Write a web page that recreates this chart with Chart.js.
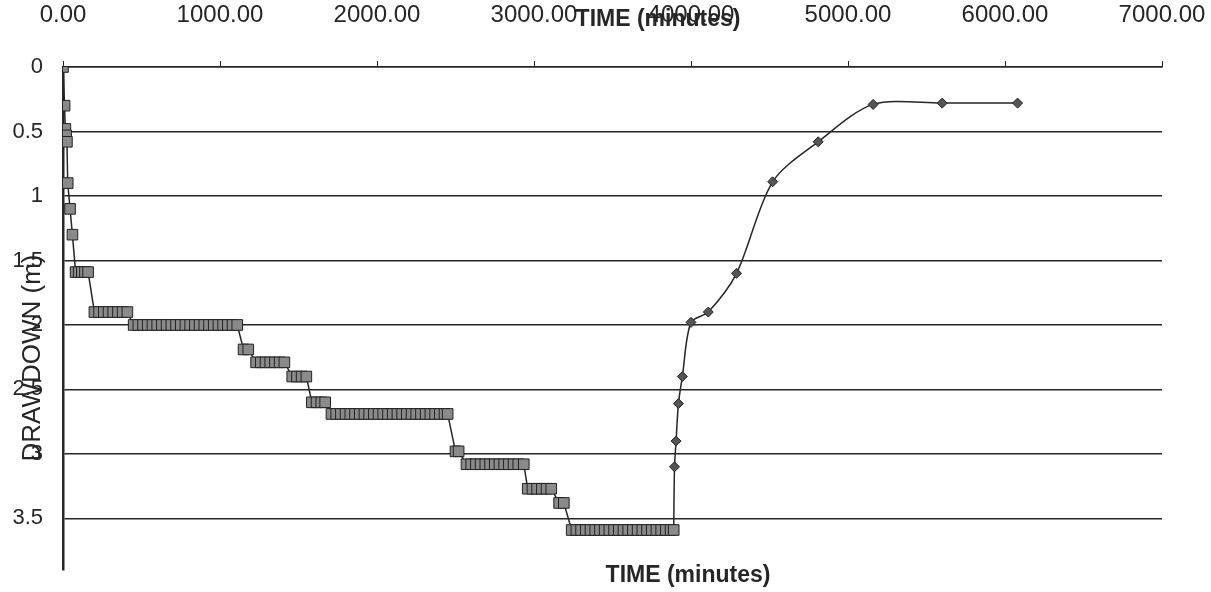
<!DOCTYPE html>
<html>
<head>
<meta charset="utf-8">
<script src="https://cdn.jsdelivr.net/npm/chart.js@4.4.1/dist/chart.umd.min.js"></script>
<style>
  html, body { margin: 0; padding: 0; background: #fff; }
  #wrap { width: 1211px; height: 592px; }
</style>
</head>
<body>
<div id="wrap"><canvas id="chart" width="1211" height="592"></canvas></div>
<script>
/* ── Data ── */
const xTickValues = [0, 1000, 2000, 3000, 4000, 5000, 6000, 7000];
const yTickValues = [0, 0.5, 1, 1.5, 2, 2.5, 3, 3.5];

// pumping (step drawdown) readings, minutes / metres
const pumpTime = [
  0, 10, 15, 20, 25, 30, 45, 60,
  80, 100, 120, 140, 160,
  200, 230, 260, 290, 320, 350, 380, 410,
  450, 480, 510, 540, 570, 600, 630, 660, 690, 720, 750, 780, 810, 840, 870, 900, 930, 960, 990, 1020, 1050, 1080, 1110,
  1150, 1180,
  1230, 1260, 1290, 1320, 1350, 1380, 1410,
  1460, 1490, 1520, 1550,
  1585, 1615, 1645, 1670,
  1710, 1740, 1770, 1800, 1830, 1860, 1890, 1920, 1950, 1980, 2010, 2040, 2070, 2100, 2130, 2160, 2190, 2220, 2250, 2280, 2310, 2340, 2370, 2400, 2430, 2450,
  2500, 2520,
  2570, 2600, 2630, 2660, 2690, 2720, 2750, 2780, 2810, 2840, 2870, 2900, 2935,
  2960, 2990, 3020, 3050, 3080, 3110,
  3160, 3190,
  3240, 3270, 3300, 3330, 3360, 3390, 3420, 3450, 3480, 3510, 3540, 3570, 3600, 3630, 3660, 3690, 3720, 3750, 3780, 3810, 3840, 3870, 3890
];
const pumpDrawdown = [
  0, 0.30, 0.48, 0.53, 0.58, 0.90, 1.10, 1.30,
  1.59, 1.59, 1.59, 1.59, 1.59,
  1.90, 1.90, 1.90, 1.90, 1.90, 1.90, 1.90, 1.90,
  2.00, 2.00, 2.00, 2.00, 2.00, 2.00, 2.00, 2.00, 2.00, 2.00, 2.00, 2.00, 2.00, 2.00, 2.00, 2.00, 2.00, 2.00, 2.00, 2.00, 2.00, 2.00, 2.00,
  2.19, 2.19,
  2.29, 2.29, 2.29, 2.29, 2.29, 2.29, 2.29,
  2.40, 2.40, 2.40, 2.40,
  2.60, 2.60, 2.60, 2.60,
  2.69, 2.69, 2.69, 2.69, 2.69, 2.69, 2.69, 2.69, 2.69, 2.69, 2.69, 2.69, 2.69, 2.69, 2.69, 2.69, 2.69, 2.69, 2.69, 2.69, 2.69, 2.69, 2.69, 2.69, 2.69, 2.69,
  2.98, 2.98,
  3.08, 3.08, 3.08, 3.08, 3.08, 3.08, 3.08, 3.08, 3.08, 3.08, 3.08, 3.08, 3.08,
  3.27, 3.27, 3.27, 3.27, 3.27, 3.27,
  3.38, 3.38,
  3.59, 3.59, 3.59, 3.59, 3.59, 3.59, 3.59, 3.59, 3.59, 3.59, 3.59, 3.59, 3.59, 3.59, 3.59, 3.59, 3.59, 3.59, 3.59, 3.59, 3.59, 3.59, 3.59
];

// recovery readings (first one = pump switched off)
const recoveryTime     = [3890, 3895, 3905, 3920, 3945, 4000, 4110, 4290, 4520, 4810, 5160, 5600, 6080];
const recoveryDrawdown = [3.59, 3.10, 2.90, 2.61, 2.40, 1.98, 1.90, 1.60, 0.89, 0.58, 0.29, 0.28, 0.28];

const INK  = "#262626";
const FONT = '"Liberation Sans", Arial, sans-serif';

/* ── Axis titles (overlap the tick labels like the original scan) ── */
const axisTitles = {
  id: "axisTitles",
  afterDraw(chart) {
    const { ctx } = chart;
    ctx.save();
    ctx.fillStyle = INK;
    ctx.textAlign = "center";
    ctx.textBaseline = "middle";
    ctx.font = `bold 23px ${FONT}`;
    ctx.fillText("TIME (minutes)", 658, 20);
    ctx.fillText("TIME (minutes)", 688, 576);
    ctx.translate(33, 358);
    ctx.rotate(-Math.PI / 2);
    ctx.font = `26px ${FONT}`;
    ctx.fillText("DRAWDOWN (m)", 0, 0);
    ctx.restore();
  }
};

const toPoints = (xs, ys) => xs.map((x, i) => ({ x, y: ys[i] }));

new Chart(document.getElementById("chart"), {
  type: "line",
  data: {
    datasets: [
      {
        label: "Pumping",
        data: toPoints(pumpTime, pumpDrawdown),
        borderColor: INK,
        borderWidth: 1.5,
        pointStyle: "rect",
        pointRadius: 7.5,
        pointBackgroundColor: "#8a8a8a",
        pointBorderColor: "#222",
        pointBorderWidth: 1,
        tension: 0,
      },
      {
        label: "Recovery",
        data: toPoints(recoveryTime, recoveryDrawdown),
        borderColor: INK,
        borderWidth: 1.5,
        pointStyle: "rectRot",
        pointRadius: ctx => ctx.dataIndex === 0 ? 0 : 5,
        pointBackgroundColor: "#555",
        pointBorderColor: "#222",
        pointBorderWidth: 1,
        tension: 0.3,
      }
    ]
  },
  options: {
    responsive: false,
    animation: false,
    events: [],
    layout: { padding: 0 },
    plugins: { legend: { display: false }, tooltip: { enabled: false } },
    scales: {
      x: {
        type: "linear",
        position: "top",
        min: 0,
        max: 7000,
        afterBuildTicks: s => { s.ticks = xTickValues.map(v => ({ value: v })); },
        afterFit: s => { s.height = 67; s.paddingLeft = 0; s.paddingRight = 49; },
        grid: { display: true, drawOnChartArea: false, drawTicks: true, tickLength: 6, color: INK },
        border: { display: true, color: INK, width: 1.5 },
        ticks: {
          padding: 31,
          color: INK,
          font: { family: FONT, size: 24 },
          callback: v => v.toFixed(2),
          maxRotation: 0,
        }
      },
      y: {
        type: "linear",
        reverse: true,
        min: 0,
        max: 3.9,
        afterBuildTicks: s => { s.ticks = yTickValues.map(v => ({ value: v })); },
        afterFit: s => { s.width = 63; s.paddingTop = 0; s.paddingBottom = 22; },
        grid: { color: INK, lineWidth: 1.5, drawTicks: false },
        border: { display: true, color: INK, width: 2.5 },
        ticks: {
          padding: 20,
          color: INK,
          font: { family: FONT, size: 22 },
          callback: v => String(v),
        }
      }
    }
  },
  plugins: [axisTitles]
});
</script>
</body>
</html>
